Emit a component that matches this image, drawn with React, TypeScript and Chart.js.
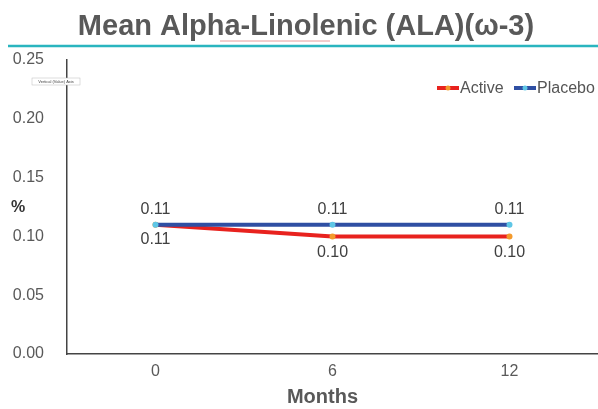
import React, { useEffect, useRef } from "react";
import { Chart, registerables } from "chart.js";

Chart.register(...registerables);

const categories = ["0", "6", "12"];
const activeValues = [0.11, 0.1, 0.1];
const placeboValues = [0.11, 0.11, 0.11];
const activeLabels = ["0.11", "0.10", "0.10"];
const placeboLabels = ["0.11", "0.11", "0.11"];
const titleText = "Mean Alpha-Linolenic (ALA)(ω-3)";
const xTitle = "Months";
const yTitle = "%";

const FONT = "'Liberation Sans', Arial, sans-serif";

const decorPlugin = {
  id: "decor",
  afterDraw(chart: any) {
    const ctx = chart.ctx;
    const xs = chart.scales.x;
    ctx.save();
    // title
    ctx.fillStyle = "#595959";
    ctx.font = `bold 29px ${FONT}`;
    ctx.textAlign = "center";
    ctx.textBaseline = "middle";
    ctx.fillText(titleText, 306, 27);
    // squiggle underline (spell-check)
    ctx.strokeStyle = "#e89a9a";
    ctx.lineWidth = 1;
    ctx.beginPath();
    ctx.moveTo(220, 41);
    ctx.lineTo(330, 41);
    ctx.stroke();
    // teal rule
    ctx.strokeStyle = "#2ab5bf";
    ctx.lineWidth = 2.5;
    ctx.beginPath();
    ctx.moveTo(8, 46);
    ctx.lineTo(598, 46);
    ctx.stroke();
    // y title
    ctx.fillStyle = "#333";
    ctx.font = `bold 16px ${FONT}`;
    ctx.fillText(yTitle, 18, 208);
    // x title
    ctx.fillStyle = "#595959";
    ctx.font = `bold 20px ${FONT}`;
    ctx.fillText(xTitle, (xs.left + xs.right) / 2 - 10, 397);
    // tiny tooltip box
    ctx.fillStyle = "#fff";
    ctx.strokeStyle = "#bbb";
    ctx.lineWidth = 0.5;
    ctx.fillRect(32, 78, 48, 7);
    ctx.strokeRect(32, 78, 48, 7);
    ctx.fillStyle = "#444";
    ctx.font = `4px ${FONT}`;
    ctx.fillText("Vertical (Value) Axis", 56, 81.5);
    // data labels
    ctx.font = `16px ${FONT}`;
    ctx.fillStyle = "#404040";
    const metaA = chart.getDatasetMeta(0);
    const metaP = chart.getDatasetMeta(1);
    metaP.data.forEach((pt: any, i: number) => {
      ctx.fillText(placeboLabels[i], pt.x, pt.y - 15);
    });
    metaA.data.forEach((pt: any, i: number) => {
      ctx.fillText(activeLabels[i], pt.x, pt.y + 15 + (i === 0 ? 0 : 1));
    });
    // legend
    const items = [
      { label: "Active", line: "#e8221e", dot: "#f39a2c", x: 437 },
      { label: "Placebo", line: "#2f4fa3", dot: "#5ec6e6", x: 514 },
    ];
    ctx.textAlign = "left";
    ctx.font = `16px ${FONT}`;
    items.forEach((it) => {
      const y = 88;
      ctx.strokeStyle = it.line;
      ctx.lineWidth = 4;
      ctx.beginPath();
      ctx.moveTo(it.x, y);
      ctx.lineTo(it.x + 22, y);
      ctx.stroke();
      ctx.fillStyle = it.dot;
      ctx.beginPath();
      ctx.arc(it.x + 11, y, 2.5, 0, Math.PI * 2);
      ctx.fill();
      ctx.fillStyle = "#555";
      ctx.fillText(it.label, it.x + 23, y + 1);
    });
    ctx.restore();
  },
};

export default function App() {
  const ref = useRef<HTMLCanvasElement>(null);
  useEffect(() => {
    document.body.style.margin = "0";
    const chart = new Chart(ref.current!, {
      type: "line",
      data: {
        labels: categories,
        datasets: [
          {
            label: "Active",
            data: activeValues,
            borderColor: "#e8221e",
            backgroundColor: "#f39a2c",
            pointBackgroundColor: "#f39a2c",
            pointBorderWidth: 0,
            pointRadius: 3,
            borderWidth: 4,
            order: 1,
          },
          {
            label: "Placebo",
            data: placeboValues,
            borderColor: "#2f4fa3",
            backgroundColor: "#5ec6e6",
            pointBackgroundColor: "#5ec6e6",
            pointBorderWidth: 0,
            pointRadius: 3,
            borderWidth: 4,
            order: 0,
          },
        ],
      },
      options: {
        animation: false,
        responsive: false,
        maintainAspectRatio: false,
        layout: { autoPadding: false, padding: { top: 60, left: 0, right: 0, bottom: 0 } },
        plugins: { legend: { display: false }, tooltip: { enabled: false } },
        scales: {
          x: {
            offset: true,
            grid: { display: false, drawTicks: false },
            border: { display: true, color: "#444", width: 1.5 },
            ticks: { color: "#595959", font: { family: FONT, size: 16 }, padding: 8 },
            afterFit: (s: any) => {
              s.height = 55;
            },
          },
          y: {
            min: 0,
            max: 0.25,
            grid: { display: false, drawTicks: false },
            border: { display: true, color: "#444", width: 1.5 },
            ticks: {
              stepSize: 0.05,
              color: "#595959",
              font: { family: FONT, size: 16 },
              padding: 23,
              callback: (v: any) => Number(v).toFixed(2),
            },
            afterFit: (s: any) => {
              s.width = 67;
            },
          },
        },
      },
      plugins: [decorPlugin],
    });
    return () => chart.destroy();
  }, []);
  return (
    <div style={{ position: "fixed", left: 0, top: 0, width: 598, height: 409, background: "#fff" }}>
      <canvas ref={ref} width={598} height={409} style={{ width: 598, height: 409 }} />
    </div>
  );
}
